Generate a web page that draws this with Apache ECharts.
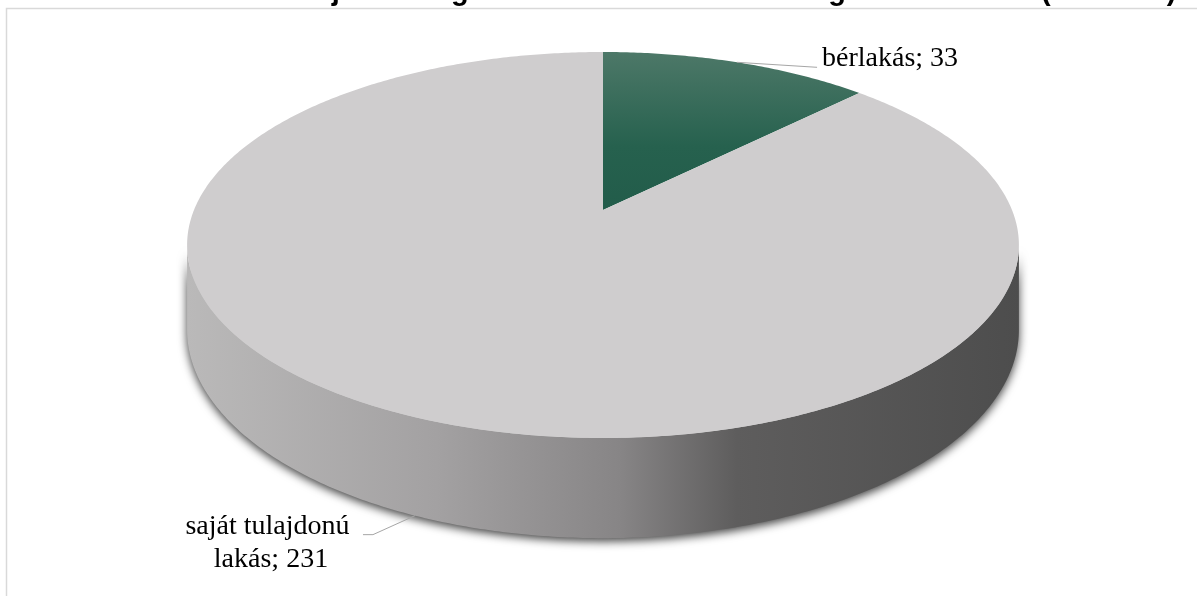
<!DOCTYPE html>
<html>
<head>
<meta charset="utf-8">
<script src="https://cdn.jsdelivr.net/npm/echarts@6/dist/echarts.min.js"></script>
<style>
html,body{margin:0;padding:0;background:#fff;}
#chart_panel{width:1197px;height:596px;}
</style>
</head>
<body>
<div id="chart_panel"></div>
<script>
var titleText = 'Lakhatási formák tulajdoni megoszlása a 2015-ös lakossági felmérésben (lakás db)';
var categories = ['bérlakás', 'saját tulajdonú lakás'];
var values = [33, 231];

var myChart = echarts.init(document.getElementById('chart_panel'));

// "3d" pie: top face is a disc seen in perspective
var cx = 603, rx = 409;
var yFar = 52, yMid = 210, yNear = 438;
var depth = 82;
var pc = (2 * yMid - yFar - yNear) / (yNear - yFar);
var pa = yMid - yFar + yFar * pc;
var wallFrom = Math.acos(pc), wallTo = 2 * Math.PI - Math.acos(pc);

function project(theta, drop) {
	var u = Math.sin(theta), v = -Math.cos(theta);
	var d = 1 + pc * v;
	return [cx + rx * u / d, (pa * v + yMid) / d + drop / d];
}

function arc(t0, t1, drop) {
	var pts = [];
	var n = Math.max(2, Math.ceil((t1 - t0) / 0.01));
	for (var i = 0; i <= n; i++) {
		pts.push(project(t0 + (t1 - t0) * i / n, drop));
	}
	return pts;
}

var wallColor = new echarts.graphic.LinearGradient(187, 0, 1020, 0, [
	{offset: 0, color: '#bab9b9'},
	{offset: 0.3, color: '#a3a1a2'},
	{offset: 0.52, color: '#878586'},
	{offset: 0.66, color: '#5e5d5d'},
	{offset: 1, color: '#4d4d4d'}
], true);
var topColors = [
	new echarts.graphic.LinearGradient(0, yFar, 0, yMid, [
		{offset: 0, color: '#4d7868'},
		{offset: 0.6, color: '#26614e'},
		{offset: 1, color: '#225c4a'}
	], true),
	'#cfcdce'
];

function renderItem(params, api) {
	var idx = params.dataIndex;
	var total = 0, start = 0;
	for (var i = 0; i < values.length; i++) {
		total += values[i];
		if (i < idx) start += values[i];
	}
	var a0 = start / total * 2 * Math.PI;
	var a1 = (start + api.value(0)) / total * 2 * Math.PI;
	var children = [];

	// side wall, only the part facing us
	var w0 = Math.max(a0, wallFrom), w1 = Math.min(a1, wallTo);
	if (w1 > w0) {
		var wall = arc(w0, w1, 0).concat(arc(w0, w1, depth).reverse());
		children.push({
			type: 'polygon',
			z2: 1,
			shape: {points: wall},
			style: {fill: wallColor, shadowBlur: 10, shadowColor: 'rgba(0,0,0,0.75)', shadowOffsetY: 3}
		});
	}
	// top face
	var top = [[cx, yMid]].concat(arc(a0, a1, 0));
	children.push({
		type: 'polygon',
		z2: 10,
		shape: {points: top},
		style: {fill: topColors[idx]}
	});

	// label with leader line
	var mid = (a0 + a1) / 2;
	var txt = categories[idx] + '; ' + api.value(0);
	var font = '28px "Liberation Serif", "Times New Roman", serif';
	if (Math.sin(mid) >= 0) {
		var p = project(mid, 0);
		children.push({
			type: 'polyline', z2: 20,
			shape: {points: [p, [p[0] + 80, p[1] + 5]]},
			style: {stroke: '#a6a6a6', lineWidth: 1, fill: null}
		});
		children.push({
			type: 'text', z2: 20,
			style: {text: txt, x: p[0] + 85, y: p[1] - 4, fill: '#000', font: font, align: 'left', verticalAlign: 'middle'}
		});
	} else {
		var q = project(mid, depth);
		children.push({
			type: 'polyline', z2: 20,
			shape: {points: [q, [q[0] - 42, q[1] + 19], [q[0] - 52, q[1] + 19]]},
			style: {stroke: '#a6a6a6', lineWidth: 1, fill: null}
		});
		children.push({
			type: 'text', z2: 20,
			style: {text: txt, x: q[0] - 144, y: q[1] + 27, fill: '#000', font: font, align: 'center',
				verticalAlign: 'middle', width: 215, overflow: 'break', lineHeight: 33}
		});
	}
	return {type: 'group', children: children};
}

var option = {
	backgroundColor: '#fff',
	animation: false,
	graphic: [
		{
			type: 'rect', z: -1,
			shape: {x: 6.5, y: 8.5, width: 1200, height: 600},
			style: {fill: null, stroke: '#d9d9d9', lineWidth: 1.5}
		},
		{
			type: 'text', z: 100,
			x: 605, y: 6,
			style: {text: titleText, fill: '#000', font: 'bold 29px "Liberation Sans", Arial, sans-serif',
				align: 'center', verticalAlign: 'bottom'}
		}
	],
	series: [{
		type: 'custom',
		coordinateSystem: 'none',
		renderItem: renderItem,
		data: values.map(function (v) { return [v]; })
	}]
};
myChart.setOption(option);
</script>
</body>
</html>
